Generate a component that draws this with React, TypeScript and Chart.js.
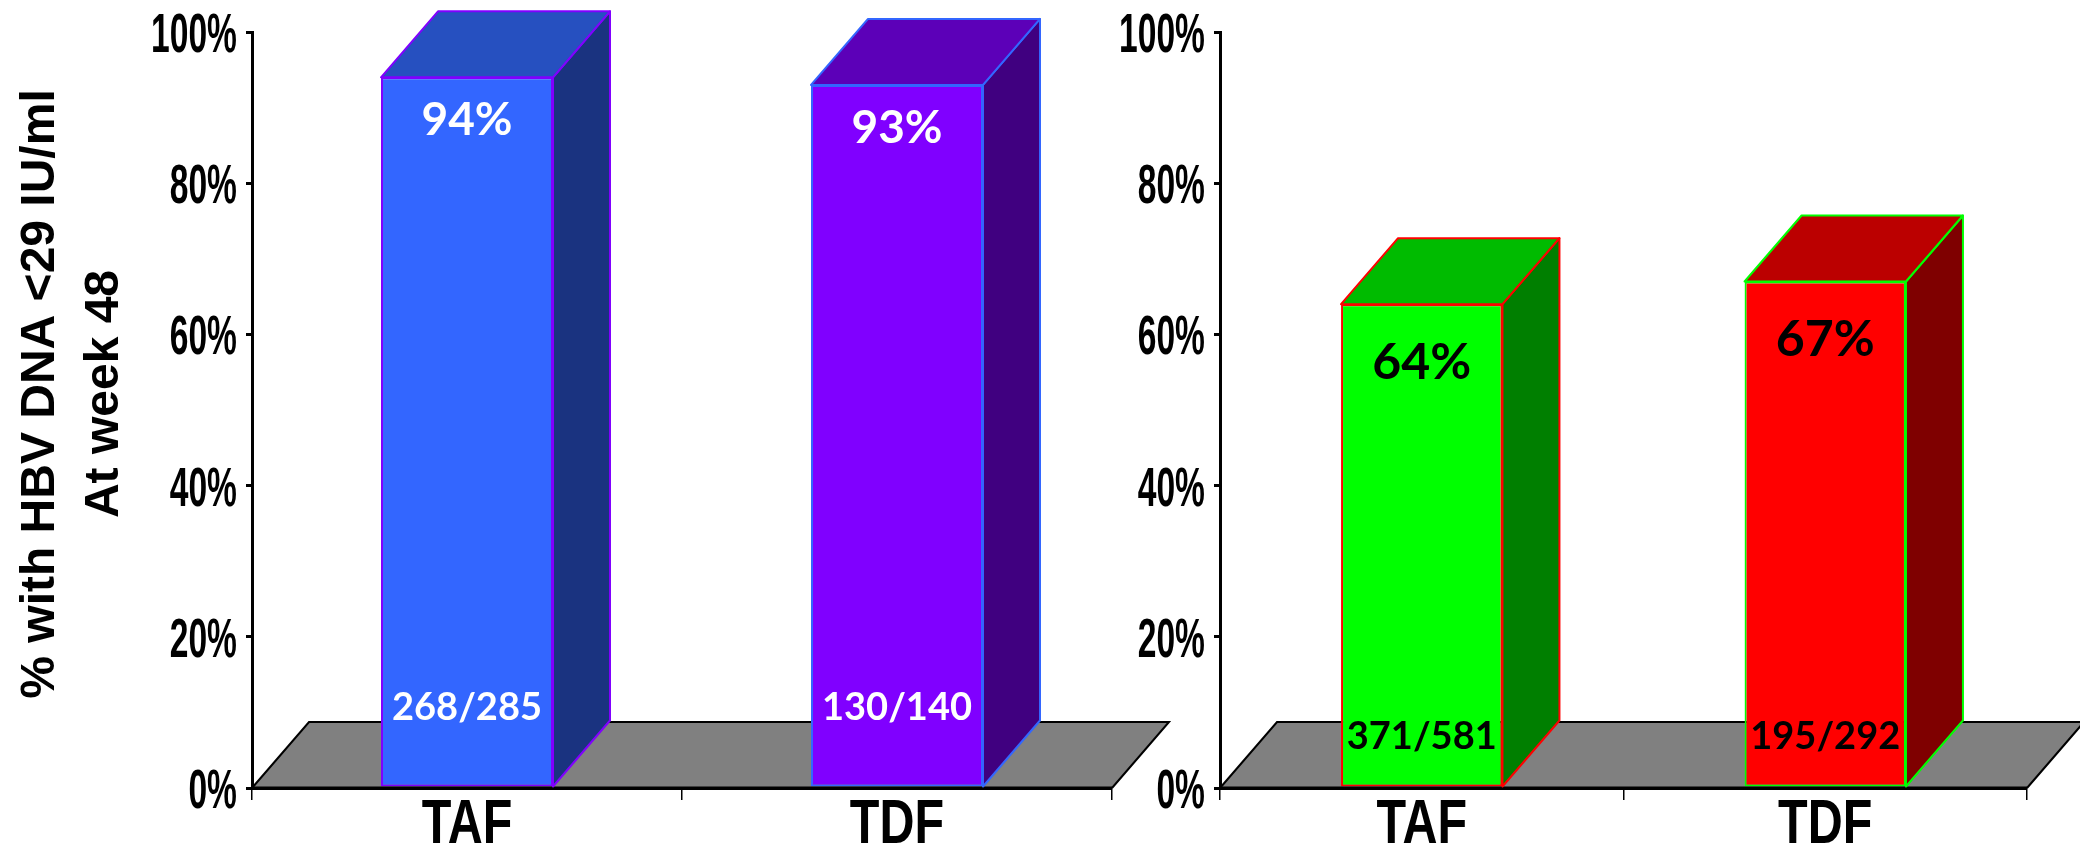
import { useEffect, useRef } from 'react';
import { Chart, registerables } from 'chart.js';
Chart.register(...registerables);

const categories = ['TAF', 'TDF'];
const leftValues = [94, 93];
const rightValues = [64, 67];
const leftCounts = ['268/285', '130/140'];
const rightCounts = ['371/581', '195/292'];
const yTickValues = [0, 20, 40, 60, 80, 100];
const yTitleLines = ['% with HBV DNA <29 IU/ml', 'At week 48'];

const leftFront = ['#3366FF', '#8000FF'];
const leftTop = ['#2650C0', '#5C00B8'];
const leftSide = ['#1A3380', '#400080'];
const leftEdge = ['#8000FF', '#3366FF'];
const rightFront = ['#00FF00', '#FF0000'];
const rightTop = ['#00BB00', '#BB0000'];
const rightSide = ['#007F00', '#7F0000'];
const rightEdge = ['#FF0000', '#00FF00'];

const DX = 57;
const DY = 66;

type Cfg = {
  top: string[];
  side: string[];
  edge: string[];
  counts: string[];
  labelColor: string;
  pctSize: number;
  pctBaseline: number;
  countBaseline: number;
  title: boolean;
};

function makePlugin(cfg: Cfg) {
  return {
    id: 'box3d',
    beforeDraw(chart: any) {
      const { ctx, chartArea } = chart;
      const { left, right, bottom } = chartArea;
      ctx.save();
      ctx.beginPath();
      ctx.moveTo(left, bottom);
      ctx.lineTo(left + DX, bottom - DY);
      ctx.lineTo(right + DX, bottom - DY);
      ctx.lineTo(right, bottom);
      ctx.closePath();
      ctx.fillStyle = '#808080';
      ctx.fill();
      ctx.beginPath();
      ctx.moveTo(left, bottom);
      ctx.lineTo(left + DX, bottom - DY);
      ctx.lineTo(right + DX, bottom - DY);
      ctx.lineTo(right, bottom);
      ctx.strokeStyle = '#000';
      ctx.lineWidth = 2;
      ctx.stroke();
      ctx.restore();
    },
    afterDatasetsDraw(chart: any) {
      const { ctx, chartArea } = chart;
      const meta = chart.getDatasetMeta(0);
      const values = chart.data.datasets[0].data as number[];
      ctx.save();
      // x axis line over bar bottoms
      ctx.beginPath();
      ctx.moveTo(chartArea.left, chartArea.bottom);
      ctx.lineTo(chartArea.right, chartArea.bottom);
      ctx.strokeStyle = '#000';
      ctx.lineWidth = 3;
      ctx.stroke();
      meta.data.forEach((el: any, i: number) => {
        const { x, y, base, width } = el.getProps(['x', 'y', 'base', 'width'], true);
        const l = x - width / 2;
        const r = x + width / 2;
        ctx.lineWidth = 2;
        ctx.lineJoin = 'round';
        ctx.strokeStyle = cfg.edge[i];
        // side face
        ctx.beginPath();
        ctx.moveTo(r, y);
        ctx.lineTo(r + DX, y - DY);
        ctx.lineTo(r + DX, base - DY);
        ctx.lineTo(r, base);
        ctx.closePath();
        ctx.fillStyle = cfg.side[i];
        ctx.fill();
        ctx.stroke();
        // top face
        ctx.beginPath();
        ctx.moveTo(l, y);
        ctx.lineTo(l + DX, y - DY);
        ctx.lineTo(r + DX, y - DY);
        ctx.lineTo(r, y);
        ctx.closePath();
        ctx.fillStyle = cfg.top[i];
        ctx.fill();
        ctx.stroke();
        // labels
        ctx.fillStyle = cfg.labelColor;
        ctx.textAlign = 'center';
        ctx.textBaseline = 'alphabetic';
        ctx.font = `bold ${cfg.pctSize}px Lato, "Open Sans", sans-serif`;
        ctx.fillText(`${values[i]}%`, x, y + cfg.pctBaseline);
        ctx.font = 'bold 38px Lato, "Open Sans", sans-serif';
        ctx.fillText(cfg.counts[i], x, base - cfg.countBaseline);
      });
      ctx.restore();
    },
    afterDraw(chart: any) {
      const { ctx, chartArea } = chart;
      const ys = chart.scales.y;
      const xs = chart.scales.x;
      ctx.save();
      ctx.fillStyle = '#000';
      ctx.textBaseline = 'alphabetic';
      // y tick labels (condensed)
      ctx.font = 'bold 56px "Liberation Sans", Arial, sans-serif';
      ctx.textAlign = 'right';
      ys.ticks.forEach((t: any) => {
        const py = ys.getPixelForValue(t.value);
        ctx.save();
        ctx.translate(chartArea.left - 15, py + 20);
        ctx.scale(0.6, 1);
        ctx.fillText(t.label, 0, 0);
        ctx.restore();
      });
      // x labels
      ctx.font = 'bold 63px "Liberation Sans", Arial, sans-serif';
      ctx.textAlign = 'center';
      chart.data.labels.forEach((lab: string, i: number) => {
        const px = xs.getPixelForTick(i);
        ctx.save();
        ctx.translate(px, 843);
        ctx.scale(0.77, 1);
        ctx.fillText(lab, 0, 0);
        ctx.restore();
      });
      if (cfg.title) {
        ctx.font = 'bold 48px "Liberation Sans", Arial, sans-serif';
        ctx.textAlign = 'center';
        const baselines = [54, 118];
        yTitleLines.forEach((line, i) => {
          ctx.save();
          ctx.translate(baselines[i], 394);
          ctx.rotate(-Math.PI / 2);
          ctx.fillText(line, 0, 0);
          ctx.restore();
        });
      }
      ctx.restore();
    },
  };
}

function makeConfig(values: number[], front: string[], edge: string[], yWidth: number, padRight: number, cfg: Cfg): any {
  return {
    type: 'bar',
    data: {
      labels: categories,
      datasets: [
        {
          data: values,
          backgroundColor: front,
          borderColor: edge,
          borderWidth: 2,
          borderSkipped: false,
          barPercentage: 0.4,
          categoryPercentage: 1,
        },
      ],
    },
    options: {
      animation: false,
      responsive: false,
      layout: { padding: { left: 0, right: padRight, top: 32, bottom: 0 } },
      plugins: { legend: { display: false }, tooltip: { enabled: false } },
      scales: {
        x: {
          grid: { offset: true, drawOnChartArea: false, drawTicks: true, tickLength: 12, color: '#000', lineWidth: 1.5 },
          border: { display: true, color: '#000', width: 3 },
          ticks: { color: 'rgba(0,0,0,0)', font: { size: 10 }, maxRotation: 0 },
          afterFit: (s: any) => {
            s.height = 56;
          },
        },
        y: {
          min: 0,
          max: 100,
          grid: { drawOnChartArea: false, drawTicks: true, tickLength: 6, color: '#000', lineWidth: 3 },
          border: { display: true, color: '#000', width: 3 },
          ticks: { color: 'rgba(0,0,0,0)', font: { size: 10 }, callback: (v: number) => `${v}%` },
          afterBuildTicks: (s: any) => {
            s.ticks = yTickValues.map((v) => ({ value: v }));
          },
          afterFit: (s: any) => {
            s.width = yWidth;
          },
        },
      },
    },
    plugins: [makePlugin(cfg)],
  };
}

export default function App() {
  const leftRef = useRef<HTMLCanvasElement>(null);
  const rightRef = useRef<HTMLCanvasElement>(null);
  useEffect(() => {
    const c1 = new Chart(
      leftRef.current as HTMLCanvasElement,
      makeConfig(leftValues, leftFront, leftEdge, 252, 88, {
        top: leftTop,
        side: leftSide,
        edge: leftEdge,
        counts: leftCounts,
        labelColor: '#FFFFFF',
        pctSize: 46,
        pctBaseline: 58,
        countBaseline: 67,
        title: true,
      })
    );
    const c2 = new Chart(
      rightRef.current as HTMLCanvasElement,
      makeConfig(rightValues, rightFront, rightEdge, 100, 53, {
        top: rightTop,
        side: rightSide,
        edge: rightEdge,
        counts: rightCounts,
        labelColor: '#000000',
        pctSize: 50,
        pctBaseline: 75,
        countBaseline: 38,
        title: false,
      })
    );
    return () => {
      c1.destroy();
      c2.destroy();
    };
  }, []);
  return (
    <div style={{ position: 'fixed', left: 0, top: 0, width: 2080, height: 844, background: '#fff', overflow: 'hidden' }}>
      <canvas ref={leftRef} width={1200} height={844} style={{ position: 'absolute', left: 0, top: 0 }} />
      <canvas ref={rightRef} width={960} height={844} style={{ position: 'absolute', left: 1120, top: 0 }} />
    </div>
  );
}
